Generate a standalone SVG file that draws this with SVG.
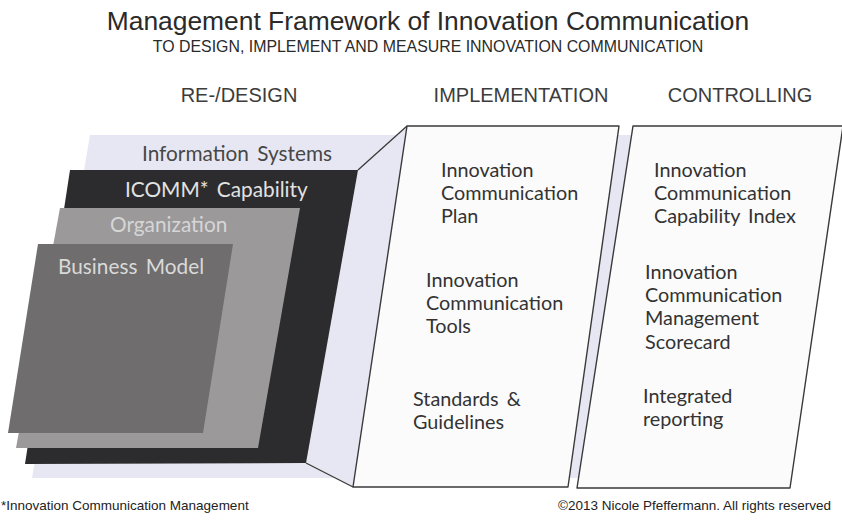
<svg xmlns="http://www.w3.org/2000/svg" width="842" height="525" viewBox="0 0 842 525">
  <style>
    .title { font-family: "Liberation Sans", Arial, sans-serif; fill: #2a2a2a; }
    .head { font-family: "Liberation Sans", Arial, sans-serif; font-size: 20px; fill: #3c3c3c; text-anchor: middle; }
    .layer-label { font-family: Lato, "Open Sans", sans-serif; font-size: 20.8px; word-spacing: 3px; }
    .item { font-family: Lato, "Open Sans", sans-serif; font-size: 19.8px; fill: #333333; word-spacing: 3px; }
    .panel { fill: #fbfbfb; stroke: #3a3a3a; stroke-width: 1.4; stroke-linejoin: round; }
    .edge { fill: none; stroke: #3a3a3a; stroke-width: 1.3; }
    .foot { font-family: "Liberation Sans", Arial, sans-serif; font-size: 13.5px; fill: #222222; }
  </style>

  <rect width="842" height="525" fill="#ffffff"/>

  <!-- heading -->
  <g id="heading">
    <text class="title" x="428" y="30" font-size="26.4" text-anchor="middle">Management Framework of Innovation Communication</text>
    <text class="title" x="428" y="52" font-size="15.9" text-anchor="middle">TO DESIGN, IMPLEMENT AND MEASURE INNOVATION COMMUNICATION</text>
  </g>

  <!-- column headings -->
  <g id="column-headings">
    <text class="head" x="239" y="102">RE-/DESIGN</text>
    <text class="head" x="521" y="102">IMPLEMENTATION</text>
    <text class="head" x="740" y="102">CONTROLLING</text>
  </g>

  <!-- stacked design layers, back to front -->
  <g id="layer-information-systems">
    <polygon points="90,135 397,135 407,126 353,487 334,478 32,478" fill="#e7e7f3"/>
    <polygon points="618,135 633,135 580,478 565,478" fill="#e7e7f3"/>
    <text class="layer-label" x="142" y="161" fill="#474747">Information Systems</text>
  </g>
  <g id="layer-icomm-capability">
    <polygon points="70,170 358,170 306,463 25,464" fill="#2c2b2d"/>
    <text class="layer-label" x="125" y="197" fill="#e2e2e2">ICOMM* Capability</text>
  </g>
  <g id="layer-organization">
    <polygon points="60,208 300,208 258,448 16,448" fill="#9b999a"/>
    <text class="layer-label" x="110" y="232" fill="#d6d6d6">Organization</text>
  </g>
  <g id="layer-business-model">
    <polygon points="38,244 233,244 203,433 8,433" fill="#6f6d6d"/>
    <text class="layer-label" x="58" y="274" fill="#d9d9d9">Business Model</text>
  </g>

  <!-- perspective lines from the layer stack to the implementation panel -->
  <g id="connectors">
    <line class="edge" x1="358" y1="170" x2="407" y2="126"/>
    <line class="edge" x1="306" y1="463" x2="353" y2="487"/>
  </g>

  <g id="panel-implementation">
    <polygon class="panel" points="407,126 619,126 568,487 353,487"/>
    <text class="item" x="441" y="177">Innovation</text>
    <text class="item" x="441" y="200">Communication</text>
    <text class="item" x="441" y="223">Plan</text>
    <text class="item" x="426" y="287">Innovation</text>
    <text class="item" x="426" y="310">Communication</text>
    <text class="item" x="426" y="333">Tools</text>
    <text class="item" x="413" y="406">Standards &amp;</text>
    <text class="item" x="413" y="429">Guidelines</text>
  </g>

  <g id="panel-controlling">
    <polygon class="panel" points="633,126 843,126 790,488 577,488"/>
    <text class="item" x="654" y="177">Innovation</text>
    <text class="item" x="654" y="200">Communication</text>
    <text class="item" x="654" y="223">Capability Index</text>
    <text class="item" x="645" y="279">Innovation</text>
    <text class="item" x="645" y="302">Communication</text>
    <text class="item" x="645" y="325">Management</text>
    <text class="item" x="645" y="349">Scorecard</text>
    <text class="item" x="643" y="403">Integrated</text>
    <text class="item" x="643" y="426">reporting</text>
  </g>

  <!-- footnotes -->
  <g id="footer">
    <text class="foot" x="1" y="510">*Innovation Communication Management</text>
    <text class="foot" x="558" y="510" font-size="14">©2013 Nicole Pfeffermann. All rights reserved</text>
  </g>
</svg>
